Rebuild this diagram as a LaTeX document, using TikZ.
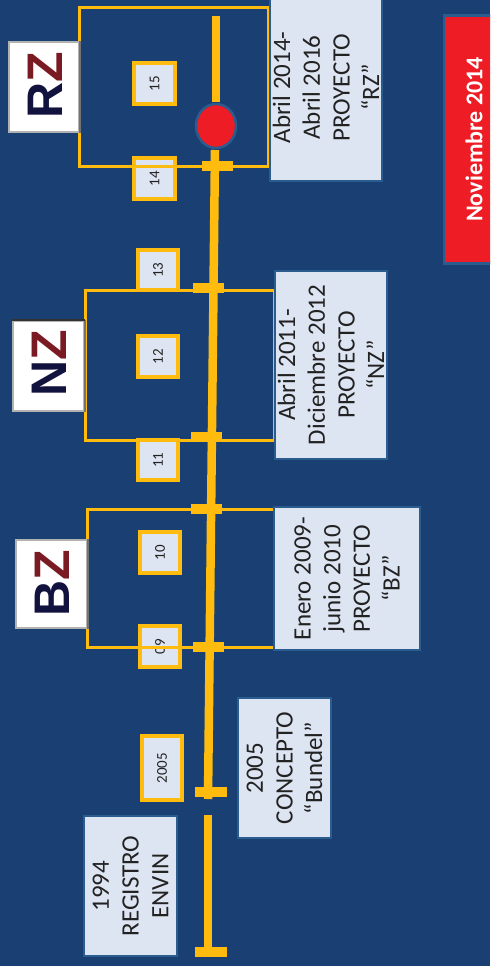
\documentclass[tikz,border=0pt]{standalone}
\usepackage{fontspec}
\usetikzlibrary{shapes.geometric}
\setmainfont{Carlito}
\newfontfamily\logofont{Liberation Sans}
\definecolor{bgblue}{HTML}{1A3F73}
\definecolor{boxfill}{HTML}{DEE5F2}
\definecolor{boxedge}{HTML}{2A5C90}
\definecolor{amber}{HTML}{FFBC0F}
\definecolor{redfill}{HTML}{EE1C25}
\definecolor{txt}{HTML}{222222}
\definecolor{navyl}{HTML}{12123F}
\definecolor{redl}{HTML}{7A1A22}
\tikzset{
  infobox/.style={draw=boxedge,line width=2.4pt,fill=boxfill,text=txt,rotate=90,align=center,
    inner sep=0pt,font=\fontsize{25}{29.7}\selectfont,anchor=center},
  numbox/.style={draw=amber,line width=3.2pt,fill=boxfill,text=txt,inner sep=0pt,font=\fontsize{15}{17}\selectfont},
  frameline/.style={draw=amber,line width=3pt},
  mainline/.style={draw=amber,line width=8.5pt},
  tickline/.style={draw=amber,line width=9.5pt},
  logobox/.style={draw=black!30,line width=1.4pt,fill=white,inner sep=0pt},
  logoedge/.style={draw=black!55,line width=1.6pt},
  logotext/.style={rotate=90,inner sep=0pt,font=\logofont\bfseries\fontsize{50}{50}\selectfont}
}
\newcommand{\numat}[6]{\node[numbox,minimum width=#3pt-#1pt,minimum height=#4pt-#2pt] (#5) at ({(#1+#3)/2},{(#2+#4)/2}) {\rotatebox{90}{#6}};}
\newcommand{\infoat}[6]{\node[infobox,minimum width=#4pt-#2pt,minimum height=#3pt-#1pt] (#5) at ({(#1+#3)/2},{(#2+#4)/2}) {#6};}
\begin{document}
\begin{tikzpicture}[x=1pt,y=-1pt]
\useasboundingbox (0,0) rectangle (490,966);
\clip (0,0) rectangle (490,966);
\fill[bgblue] (0,0) rectangle (490,966);

% main line
\coordinate (l1a) at (216,16); \coordinate (l1b) at (216,102);
\coordinate (l2a) at (215,150); \coordinate (l2b) at (208,799);
\coordinate (l3a) at (208,815); \coordinate (l3b) at (208,956);

% number boxes under frames
\numat{134}{63}{175}{104}{n15}{15}
\numat{134}{158}{175}{199}{n14}{14}
\numat{138}{250}{178}{290}{n13}{13}
\numat{138}{336}{178}{377}{n12}{12}
\numat{138}{440}{178}{480}{n11}{11}
\numat{140}{532}{180}{573}{n10}{10}
\numat{140}{626}{180}{667}{n09}{09}
\numat{142}{736}{182}{800}{n05}{2005}

% frames
\node[frameline,minimum width=189pt,minimum height=158pt,inner sep=0pt] (frz) at (173.5,87) {};
\node[frameline,minimum width=189pt,minimum height=150pt,inner sep=0pt] (fnz) at (179.5,365) {};
\node[frameline,minimum width=189pt,minimum height=138pt,inner sep=0pt] (fbz) at (181.5,578) {};

% main line segments
\draw[mainline] (l1a) -- (l1b);
\draw[mainline] (l2a) -- (l2b);
\draw[mainline] (l3a) -- (l3b);

% ticks
\coordinate (t1a) at (202,166); \coordinate (t1b) at (233,166);
\coordinate (t2a) at (193,288); \coordinate (t2b) at (224,288);
\coordinate (t3a) at (191,437); \coordinate (t3b) at (222,437);
\coordinate (t4a) at (191,509); \coordinate (t4b) at (222,509);
\coordinate (t5a) at (193,647); \coordinate (t5b) at (224,647);
\coordinate (t6a) at (195,792); \coordinate (t6b) at (227,792);
\coordinate (t7a) at (195,952); \coordinate (t7b) at (227,952);
\foreach \t in {1,...,7} {\draw[tickline] (t\t a) -- (t\t b);}

% red marker
\node[draw=boxedge,line width=2.4pt,fill=redfill,ellipse,minimum width=40pt,minimum height=44pt,inner sep=0pt] (now) at (216,126) {};

% info boxes: x1,y1,x2,y2
\infoat{270}{-6}{382}{181}{irz}{Abril 2014-\\Abril 2016\\PROYECTO\\“RZ”}
\infoat{275}{271}{387}{459}{inz}{Abril 2011-\\Diciembre 2012\\PROYECTO\\“NZ”}
\infoat{274}{507}{420}{650}{ibz}{Enero 2009-\\junio 2010\\PROYECTO\\“BZ”}
\infoat{238}{698}{331}{838}{ibu}{2005\\CONCEPTO\\“Bundel”}
\infoat{84}{816}{177}{956}{ien}{1994\\REGISTRO\\ENVIN}

% date tag
\node[draw=boxedge,line width=2.4pt,fill=redfill,text=white,rotate=90,inner sep=0pt,
  minimum width=248pt,minimum height=60pt,font=\bfseries\fontsize{24}{28}\selectfont] (nov) at (474,139.5) {Noviembre 2014};

% logos
\node[logobox,minimum width=70pt,minimum height=90pt] (lrz) at (44,87) {};
\draw[logoedge] (lrz.north east) -- (lrz.south east);
\node[logotext] (trz) at (45,85) {\textcolor{navyl}{R}\textcolor{redl}{Z}};
\node[logobox,minimum width=71pt,minimum height=90pt] (lnz) at (48.5,366) {};
\draw[logoedge] (lnz.north east) -- (lnz.south east);
\draw[draw=black!80,line width=2pt] (lnz.north west) -- (lnz.north east);
\node[logotext] (tnz) at (49,363) {\textcolor{navyl}{N}\textcolor{redl}{Z}};
\node[logobox,minimum width=71pt,minimum height=88pt] (lbz) at (51.5,584) {};
\draw[logoedge] (lbz.north east) -- (lbz.south east);
\node[logotext] (tbz) at (52,583) {\textcolor{navyl}{B}\textcolor{redl}{Z}};
\end{tikzpicture}
\end{document}
